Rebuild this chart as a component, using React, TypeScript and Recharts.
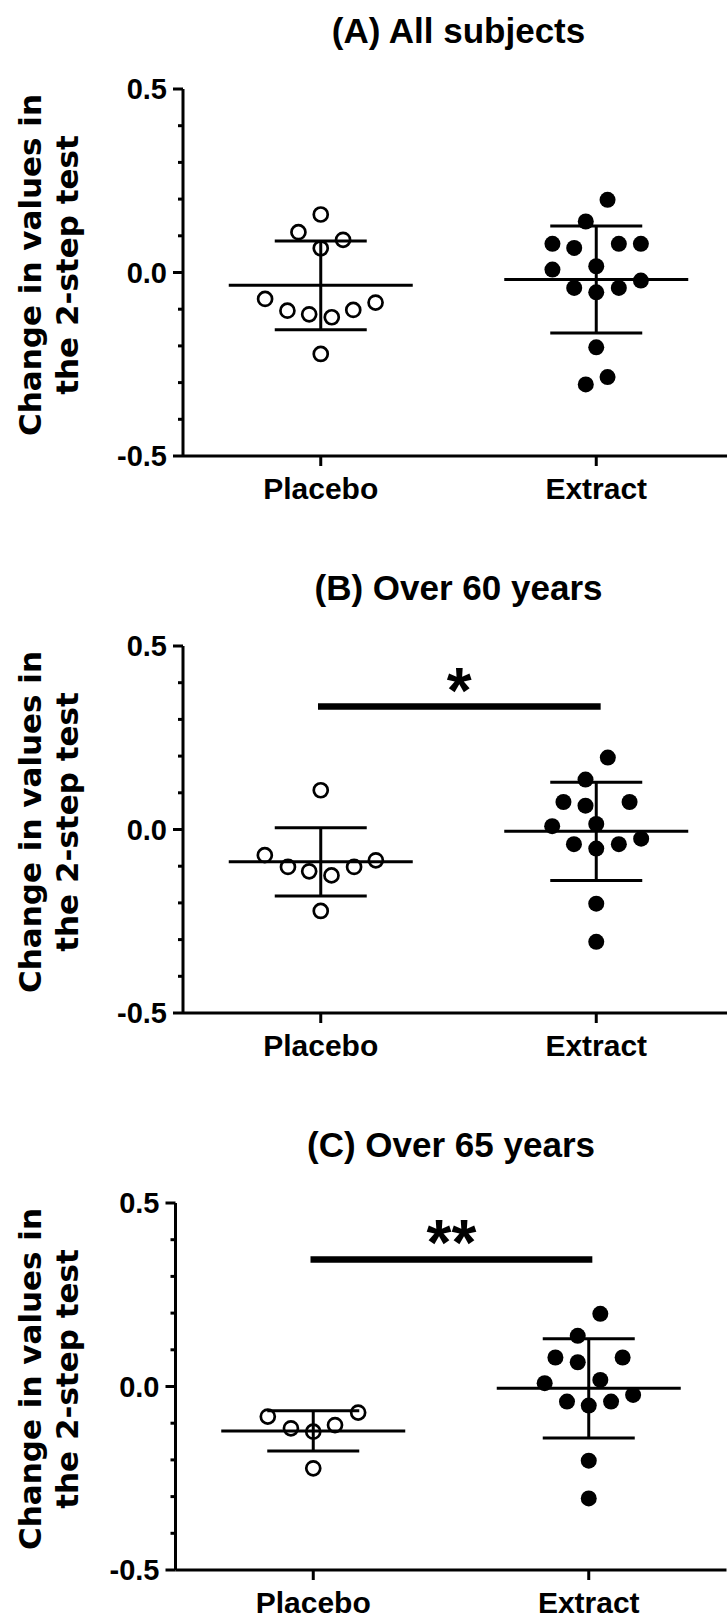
import React from 'react'
import { ScatterChart, Scatter, XAxis, YAxis, ErrorBar, ReferenceLine, Label } from 'recharts'

const TICK_FONT = "'Liberation Sans', Arial, sans-serif"
const LABEL_FONT = "'DejaVu Sans', Verdana, sans-serif"

const groups = ['Placebo', 'Extract']
const yTicks = [-0.5, -0.4, -0.3, -0.2, -0.1, 0, 0.1, 0.2, 0.3, 0.4, 0.5]
const majorTicks = [-0.5, 0, 0.5]
const yLabelLines = ['Change in values in', 'the 2-step test']

// each point: [horizontal jitter, value]
// ---- (A) All subjects ----
const placeboA = [
  [0, 0.158], [-0.081, 0.110], [0.081, 0.089], [0, 0.066],
  [-0.202, -0.072], [-0.121, -0.104], [-0.042, -0.114], [0.040, -0.122],
  [0.118, -0.102], [0.199, -0.082], [0, -0.222],
]
const extractA = [
  [0.041, 0.198], [-0.038, 0.139], [-0.159, 0.078], [-0.080, 0.067],
  [0.082, 0.078], [0.162, 0.078], [-0.159, 0.008], [0, 0.017],
  [0.162, -0.022], [-0.080, -0.042], [0, -0.054], [0.082, -0.042],
  [0, -0.204], [0.041, -0.285], [-0.038, -0.305],
]
const meanA = [-0.035, -0.019]
const sdA = [0.121, 0.146]

// ---- (B) Over 60 years ----
const placeboB = [
  [0, 0.107], [-0.203, -0.070], [-0.119, -0.102], [-0.042, -0.114],
  [0.039, -0.125], [0.121, -0.102], [0.2, -0.084], [0, -0.222],
]
const extractB = [
  [0.042, 0.196], [-0.039, 0.136], [-0.119, 0.075], [-0.039, 0.065],
  [0.121, 0.075], [-0.160, 0.009], [0, 0.015], [0.163, -0.025],
  [-0.081, -0.040], [0, -0.052], [0.082, -0.040], [0, -0.202], [0, -0.306],
]
const meanB = [-0.088, -0.005]
const sdB = [0.093, 0.134]

// ---- (C) Over 65 years ----
const placeboC = [
  [-0.165, -0.082], [0.163, -0.071], [-0.081, -0.114],
  [0, -0.123], [0.079, -0.105], [0, -0.223],
]
const extractC = [
  [0.042, 0.198], [-0.040, 0.138], [-0.121, 0.079], [-0.040, 0.066],
  [0.123, 0.079], [-0.160, 0.009], [0.042, 0.018], [0.161, -0.023],
  [-0.079, -0.041], [0, -0.052], [0.081, -0.041], [0, -0.202], [0, -0.305],
]
const meanC = [-0.121, -0.005]
const sdC = [0.055, 0.135]

const toPoints = (pts: number[][], group: number) => pts.map(([dx, y]) => ({ x: group + dx, y }))

const fmtY = (v: number) => (v === 0 ? '0.0' : v.toFixed(1))

const YTick = (props: any) => {
  const { x, y, payload } = props
  const major = majorTicks.includes(payload.value)
  const ax = x + 16
  return (
    <g>
      <line x1={ax - (major ? 10 : 5)} x2={ax} y1={y} y2={y} stroke="#000" strokeWidth={3} />
      {major && (
        <text x={x} y={y} dy="0.36em" textAnchor="end" fontSize={29} fontWeight={700} fontFamily={TICK_FONT} fill="#000">
          {fmtY(payload.value)}
        </text>
      )}
    </g>
  )
}

const YTitle = () => (
  <g fontFamily={LABEL_FONT} fontWeight={700} fontSize={31} fill="#000">
    <text transform="translate(41,265) rotate(-90)" textAnchor="middle">{yLabelLines[0]}</text>
    <text transform="translate(78,265) rotate(-90)" textAnchor="middle">{yLabelLines[1]}</text>
  </g>
)

const MeanLine = (p: any) => (
  <line x1={p.cx - 92} x2={p.cx + 92} y1={p.cy} y2={p.cy} stroke="#000" strokeWidth={3} />
)
const OpenDot = (p: any) => <circle cx={p.cx} cy={p.cy} r={7} fill="none" stroke="#000" strokeWidth={2.7} />
const FilledDot = (p: any) => <circle cx={p.cx} cy={p.cy} r={8} fill="#000" />

const starLabel = (text: string, dy: number) => (props: any) => {
  const vb = props.viewBox
  return (
    <text x={vb.x + vb.width / 2} y={vb.y + dy} textAnchor="middle" fontSize={64} fontWeight={700} fontFamily={TICK_FONT} fill="#000">
      {text}
    </text>
  )
}

type PanelProps = {
  title: string
  top: number
  height: number
  axisX: number
  placebo: number[][]
  extract: number[][]
  mean: number[]
  sd: number[]
  sig?: { from: number; to: number; y: number; text: string; dy: number }
}

function Panel({ title, top, height, axisX, placebo, extract, mean, sd, sig }: PanelProps) {
  const W = 740
  const plotW = 551
  const stats = mean.map((m, i) => ({ x: i + 1, y: m, sd: sd[i] }))
  return (
    <div style={{ position: 'absolute', left: 0, top, width: W, height }}>
      <div
        style={{
          position: 'absolute', left: axisX + plotW / 2 - 250, width: 500, top: 13, textAlign: 'center',
          fontFamily: TICK_FONT, fontWeight: 700, fontSize: 35, lineHeight: '35px', color: '#000',
        }}
      >
        {title}
      </div>
      <ScatterChart width={W} height={height} margin={{ top: 89, right: W - axisX - plotW, left: 0, bottom: height - 456 - 50 }}>
        <XAxis
          type="number" dataKey="x" domain={[0.5, 2.5]} ticks={[1, 2]} interval={0} allowDataOverflow
          tickFormatter={(v: number) => groups[v - 1]} height={50}
          axisLine={{ stroke: '#000', strokeWidth: 3 }} tickLine={{ stroke: '#000', strokeWidth: 3 }}
          tickSize={10} tickMargin={12}
          tick={{ fill: '#000', fontSize: 30, fontWeight: 700, fontFamily: TICK_FONT }}
        />
        <YAxis
          type="number" dataKey="y" domain={[-0.5, 0.5]} ticks={yTicks} interval={0} allowDataOverflow
          width={axisX} axisLine={{ stroke: '#000', strokeWidth: 3 }} tickLine={false}
          tickSize={10} tickMargin={6} tick={<YTick />}
        >
          <Label content={<YTitle />} />
        </YAxis>
        {sig && (
          <ReferenceLine
            segment={[{ x: sig.from, y: sig.y }, { x: sig.to, y: sig.y }]}
            stroke="#000" strokeWidth={6.5}
            label={{ content: starLabel(sig.text, sig.dy) }}
          />
        )}
        <Scatter data={stats} shape={<MeanLine />} isAnimationActive={false}>
          <ErrorBar dataKey="sd" direction="y" width={46} stroke="#000" strokeWidth={3} isAnimationActive={false} />
        </Scatter>
        <Scatter data={toPoints(placebo, 1)} shape={<OpenDot />} isAnimationActive={false} />
        <Scatter data={toPoints(extract, 2)} shape={<FilledDot />} isAnimationActive={false} />
      </ScatterChart>
    </div>
  )
}

export default function App() {
  return (
    <div style={{ position: 'absolute', left: 0, top: 0, width: 727, height: 1618, overflow: 'hidden', background: '#fff' }}>
      <Panel title="(A) All subjects" top={0} height={557} axisX={183}
        placebo={placeboA} extract={extractA} mean={meanA} sd={sdA} />
      <Panel title="(B) Over 60 years" top={557} height={557} axisX={183}
        placebo={placeboB} extract={extractB} mean={meanB} sd={sdB}
        sig={{ from: 0.99, to: 2.016, y: 0.335, text: '*', dy: 6 }} />
      <Panel title="(C) Over 65 years" top={1114} height={506} axisX={175.5}
        placebo={placeboC} extract={extractC} mean={meanC} sd={sdC}
        sig={{ from: 0.99, to: 2.013, y: 0.346, text: '**', dy: 5 }} />
    </div>
  )
}
